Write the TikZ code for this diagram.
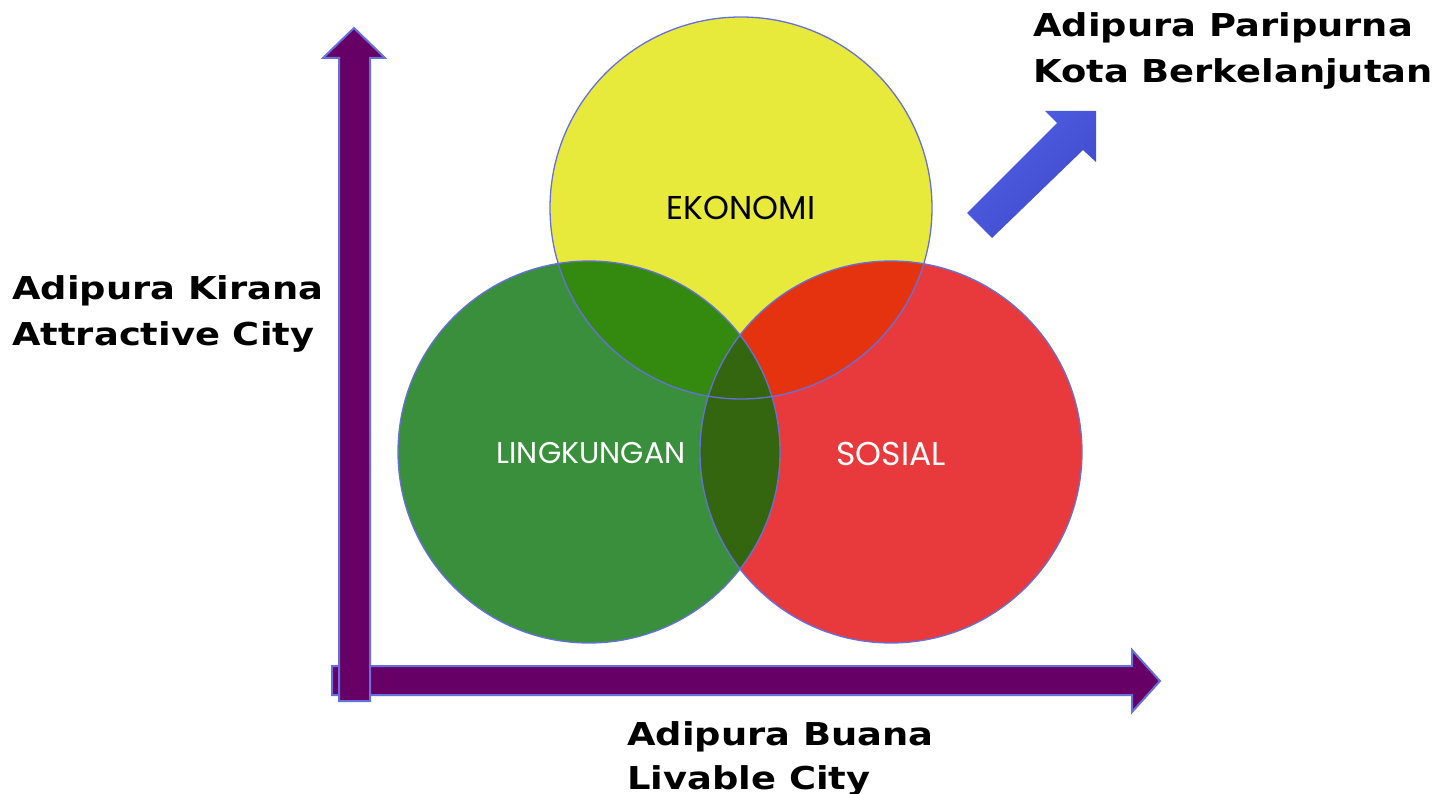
\documentclass[tikz,border=0pt]{standalone}
\usepackage{fontspec}
\newfontfamily\labfont[FakeStretch=1.17]{DejaVu Sans}
\newfontfamily\circfont{Poppins}
\definecolor{purp}{HTML}{660066}
\definecolor{edgeb}{HTML}{6670DD}
\definecolor{yel}{HTML}{E8EA3B}
\definecolor{grn}{HTML}{3A8F3C}
\definecolor{redc}{HTML}{E83A3D}
\definecolor{yg}{HTML}{338A0F}
\definecolor{yr}{HTML}{E5330F}
\definecolor{gr}{HTML}{33660E}
\definecolor{bluL}{HTML}{5060E6}
\definecolor{bluD}{HTML}{3F49C9}
\tikzset{
  x=1pt,y=-1pt,
  axisarrow/.style={fill=purp,draw=edgeb,line width=2pt,line join=miter},
  venn/.style={draw=edgeb,line width=1.3pt},
  biglabel/.style={font=\labfont\bfseries\fontsize{31.5}{44}\selectfont,anchor=base west,inner sep=0pt,text=black},
  circlabel/.style={font=\circfont\fontsize{33}{36}\selectfont,inner sep=0pt,anchor=base},
}
\begin{document}
\begin{tikzpicture}
\useasboundingbox (0,0) rectangle (1449,794);
% circles
\coordinate (cy) at (741,208);
\coordinate (cg) at (589,452);
\coordinate (cr) at (891,452);
\def\R{191pt}
\fill[grn] (cg) circle[radius=\R];
\fill[redc] (cr) circle[radius=\R];
\fill[yel] (cy) circle[radius=\R];
\begin{scope}
  \clip (cy) circle[radius=\R];
  \fill[yg] (cg) circle[radius=\R];
  \fill[yr] (cr) circle[radius=\R];
\end{scope}
\begin{scope}
  \clip (cg) circle[radius=\R];
  \fill[gr] (cr) circle[radius=\R];
\end{scope}
\draw[venn] (cg) circle[radius=\R];
\draw[venn] (cr) circle[radius=\R];
\draw[venn] (cy) circle[radius=\R];
\node[circlabel,text=black] (eko) at (741,220) {EKONOMI};
\node[circlabel,text=white,font=\circfont\fontsize{30}{34}\selectfont] (lin) at (591,463) {LINGKUNGAN};
\node[circlabel,text=white] (sos) at (891,465) {SOSIAL};
% horizontal axis arrow
\draw[axisarrow] (332,666) -- (1132,666) -- (1132,650) -- (1160,681) -- (1132,712) -- (1132,695) -- (332,695) -- cycle;
% vertical axis arrow
\draw[axisarrow] (339,701) -- (339,58) -- (323,58) -- (354,28) -- (385,58) -- (370,58) -- (370,701) -- cycle;
% diagonal arrow
\shade[left color=bluL,right color=bluD,shading angle=45] (967,213) -- (1057,123) -- (1045,111) -- (1096,111) -- (1096,162) -- (1083,150) -- (992,238) -- cycle;
% labels
\node[biglabel] (kir1) at (12,300) {Adipura Kirana};
\node[biglabel] (kir2) at (12,345) {Attractive City};
\node[biglabel] (par1) at (1033,37) {Adipura Paripurna};
\node[biglabel] (par2) at (1033,83) {Kota Berkelanjutan};
\node[biglabel] (bua1) at (627,745) {Adipura Buana};
\node[biglabel] (bua2) at (627,789) {Livable City};
\end{tikzpicture}
\end{document}
